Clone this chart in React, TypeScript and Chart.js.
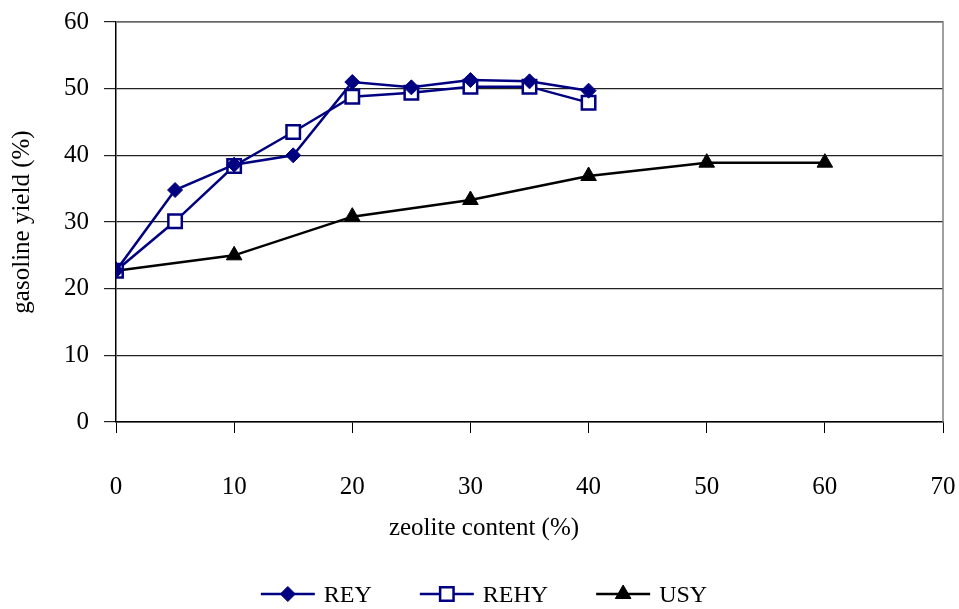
import { useEffect, useRef } from 'react';
import { Chart, registerables } from 'chart.js';
import { drawPoint } from 'chart.js/helpers';

Chart.register(...registerables);

// ---- data ----
const reyContent = [0, 5, 10, 15, 20, 25, 30, 35, 40];
const reyYield = [22.7, 34.8, 38.6, 40.0, 51.0, 50.2, 51.3, 51.1, 49.7];

const rehyContent = [0, 5, 10, 15, 20, 25, 30, 35, 40];
const rehyYield = [22.7, 30.1, 38.4, 43.5, 48.8, 49.4, 50.3, 50.3, 47.9];

const usyContent = [0, 10, 20, 30, 40, 50, 60];
const usyYield = [22.7, 25.0, 30.8, 33.3, 36.9, 38.9, 38.9];

const seriesNames = ['REY', 'REHY', 'USY'];
const xTitle = 'zeolite content (%)';
const yTitle = 'gasoline yield (%)';
const xRange = [0, 70];
const yRange = [0, 60];
const tickStep = 10;

const FONT = "'Liberation Serif', 'Times New Roman', serif";
const NAVY = '#000080';

const toPoints = (xs: number[], ys: number[]) => xs.map((x, i) => ({ x, y: ys[i] }));

const decorPlugin = {
  id: 'decor',
  beforeDatasetsDraw(chart: any) {
    const { ctx, chartArea } = chart;
    const { left, right, top, bottom } = chartArea;
    ctx.save();
    ctx.strokeStyle = '#808080';
    ctx.lineWidth = 1.5;
    ctx.beginPath();
    ctx.moveTo(left, top);
    ctx.lineTo(right, top);
    ctx.lineTo(right, bottom);
    ctx.stroke();
    ctx.restore();
  },
  afterDraw(chart: any) {
    const { ctx } = chart;
    ctx.save();
    ctx.fillStyle = '#000';
    ctx.font = `25px ${FONT}`;
    ctx.textAlign = 'center';
    ctx.textBaseline = 'middle';
    ctx.fillText(xTitle, 484, 528);

    // legend
    ctx.font = `24px ${FONT}`;
    const lineLen = 54;
    const gapText = 9;
    const gapItems = 48;
    const items = chart.data.datasets.map((ds: any) => ({
      label: ds.label,
      color: ds.borderColor,
      style: ds.pointStyle,
      radius: ds.pointRadius,
      bg: ds.pointBackgroundColor,
      bw: ds.pointBorderWidth,
      lw: ds.borderWidth,
      w: lineLen + gapText + ctx.measureText(ds.label).width,
    }));
    const total = items.reduce((s: number, it: any) => s + it.w, 0) + gapItems * (items.length - 1);
    let x = 484 - total / 2;
    const ly = 594;
    items.forEach((it: any) => {
      ctx.strokeStyle = it.color;
      ctx.lineWidth = it.lw;
      ctx.beginPath();
      ctx.moveTo(x, ly);
      ctx.lineTo(x + lineLen, ly);
      ctx.stroke();
      ctx.fillStyle = it.bg;
      ctx.strokeStyle = it.color;
      ctx.lineWidth = it.bw;
      drawPoint(ctx, { pointStyle: it.style, radius: it.radius, rotation: 0, borderWidth: it.bw }, x + lineLen / 2, ly);
      ctx.fillStyle = '#000';
      ctx.textAlign = 'left';
      ctx.fillText(it.label, x + lineLen + gapText, 596);
      x += it.w + gapItems;
    });
    ctx.restore();
  },
};

export default function App() {
  const ref = useRef<HTMLCanvasElement | null>(null);

  useEffect(() => {
    if (!ref.current) return;
    const chart = new Chart(ref.current, {
      type: 'line',
      data: {
        datasets: [
          {
            label: seriesNames[0],
            data: toPoints(reyContent, reyYield),
            borderColor: NAVY,
            backgroundColor: NAVY,
            pointBackgroundColor: NAVY,
            pointBorderColor: NAVY,
            pointStyle: 'rectRot',
            pointRadius: 7.5,
            pointBorderWidth: 1,
            borderWidth: 2.5,
          },
          {
            label: seriesNames[1],
            data: toPoints(rehyContent, rehyYield),
            borderColor: NAVY,
            backgroundColor: '#ffffff',
            pointBackgroundColor: '#ffffff',
            pointBorderColor: NAVY,
            pointStyle: 'rect',
            pointRadius: 9.5,
            pointBorderWidth: 2.5,
            borderWidth: 2.5,
          },
          {
            label: seriesNames[2],
            data: toPoints(usyContent, usyYield),
            borderColor: '#000000',
            backgroundColor: '#000000',
            pointBackgroundColor: '#000000',
            pointBorderColor: '#000000',
            pointStyle: 'triangle',
            pointRadius: 9,
            pointBorderWidth: 1,
            borderWidth: 2.5,
          },
        ],
      },
      options: {
        responsive: false,
        animation: false,
        layout: { padding: { left: 0, right: 16, top: 22, bottom: 0 } },
        plugins: {
          legend: { display: false },
          tooltip: { enabled: false },
        },
        elements: { line: { tension: 0 } },
        scales: {
          x: {
            type: 'linear',
            min: xRange[0],
            max: xRange[1],
            afterFit: (s: any) => {
              s.height = 187;
              s.paddingLeft = 0;
              s.paddingRight = 0;
            },
            ticks: { stepSize: tickStep, color: '#000', font: { family: FONT, size: 25 }, padding: 39 },
            grid: { drawOnChartArea: false, drawTicks: true, tickLength: 11, color: '#000', lineWidth: 1 },
            border: { color: '#000', width: 1.5 },
            title: { display: false, text: xTitle },
          },
          y: {
            min: yRange[0],
            max: yRange[1],
            afterFit: (s: any) => {
              s.width = 116;
              s.paddingTop = 0;
              s.paddingBottom = 0;
            },
            ticks: { stepSize: tickStep, color: '#000', font: { family: FONT, size: 25 }, padding: 15 },
            grid: { color: '#222', lineWidth: 1.2, tickLength: 12 },
            border: { color: '#000', width: 1.5 },
            title: {
              display: true,
              text: yTitle,
              color: '#000',
              font: { family: FONT, size: 25 },
              padding: { top: 7, bottom: 0 },
            },
          },
        },
      },
      plugins: [decorPlugin],
    });
    return () => chart.destroy();
  }, []);

  return (
    <div style={{ position: 'fixed', left: 0, top: 0, width: 959, height: 609, background: '#fff' }}>
      <canvas ref={ref} width={959} height={609} />
    </div>
  );
}
